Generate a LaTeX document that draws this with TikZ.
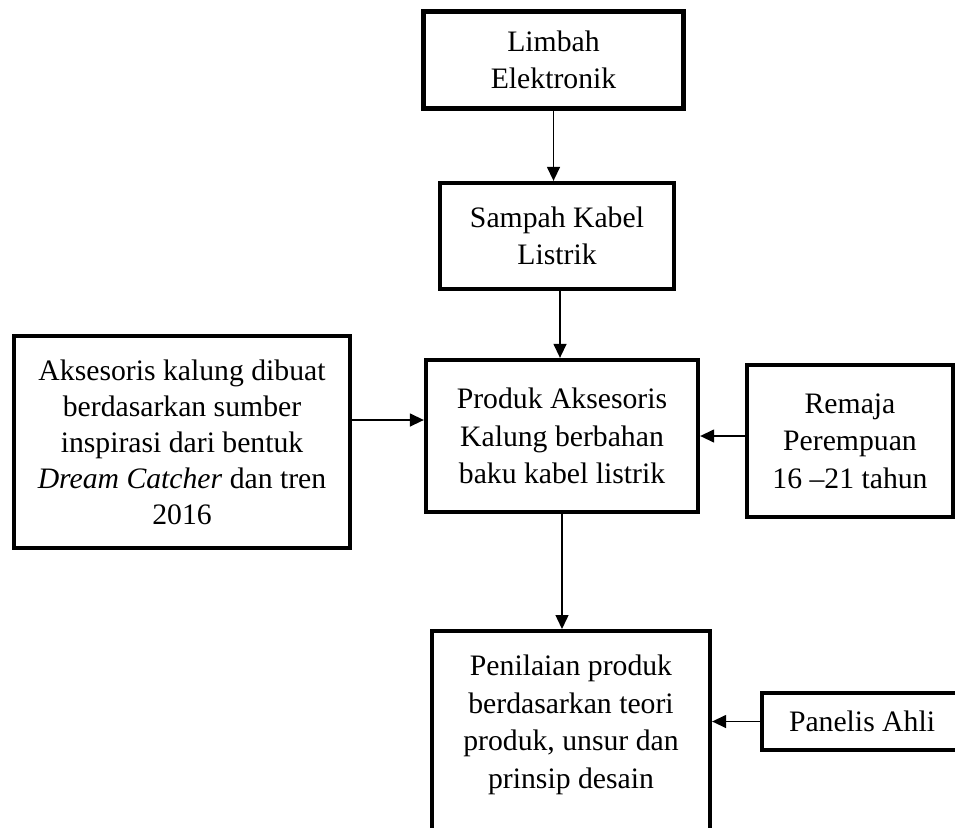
\documentclass[tikz,border=0pt]{standalone}
\usepackage{fontspec}
\setmainfont{Liberation Serif}
\usetikzlibrary{arrows.meta}

\begin{document}
\begin{tikzpicture}[x=1pt, y=-1pt,
        kotak/.style={draw, black, line width=4.3pt, align=center, inner sep=0pt,
                font=\fontsize{29.7}{37.5}\selectfont},
        panah/.style={black, line width=1.4pt, -{Triangle[length=14pt, width=13pt]}}]
        \useasboundingbox (0,0) rectangle (955,827);
        \clip (0,0) rectangle (955,827);
        \node[kotak, line width=5.6pt, minimum width=260pt, minimum height=97pt] (limbah) at (553.5,60) {Limbah\\Elektronik};
        \node[kotak, minimum width=234pt, minimum height=106pt] (sampah) at (557,236) {Sampah Kabel\\Listrik};
        \node[kotak, minimum width=272pt, minimum height=152pt] (produk) at (562,436) {Produk Aksesoris\\Kalung berbahan\\baku kabel listrik};
        \node[kotak, font=\fontsize{29.7}{36}\selectfont, minimum width=336pt, minimum height=212pt] (inspirasi) at (182,442)
                {Aksesoris kalung dibuat\\berdasarkan sumber\\inspirasi dari bentuk\\\textit{Dream Catcher} dan tren\\2016};
        \node[kotak, minimum width=206pt, minimum height=152pt] (remaja) at (850,441) {Remaja\\Perempuan\\16 --21 tahun};
        \node[kotak, anchor=north, inner ysep=24pt, minimum width=278pt] (penilaian) at (571,629)
                {Penilaian produk\\berdasarkan teori\\produk, unsur dan\\prinsip desain\\ \mbox{}\\ \mbox{}\\ \mbox{}};
        \node[kotak, minimum width=200pt, minimum height=57pt] (panelis) at (862,721.5) {Panelis Ahli};

        \draw[panah] (limbah.south) -- (limbah.south |- sampah.north);
        \draw[panah] ([xshift=3pt]sampah.south) -- ([xshift=3pt]sampah.south |- produk.north);
        \draw[panah] ([yshift=22pt]inspirasi.east) -- ([yshift=22pt]inspirasi.east -| produk.west);
        \draw[panah] ([yshift=5pt]remaja.west) -- ([yshift=5pt]remaja.west -| produk.east);
        \draw[panah] (produk.south) -- (produk.south |- penilaian.north);
        \draw[panah] (panelis.west) -- (panelis.west -| penilaian.east);
\end{tikzpicture}
\end{document}
